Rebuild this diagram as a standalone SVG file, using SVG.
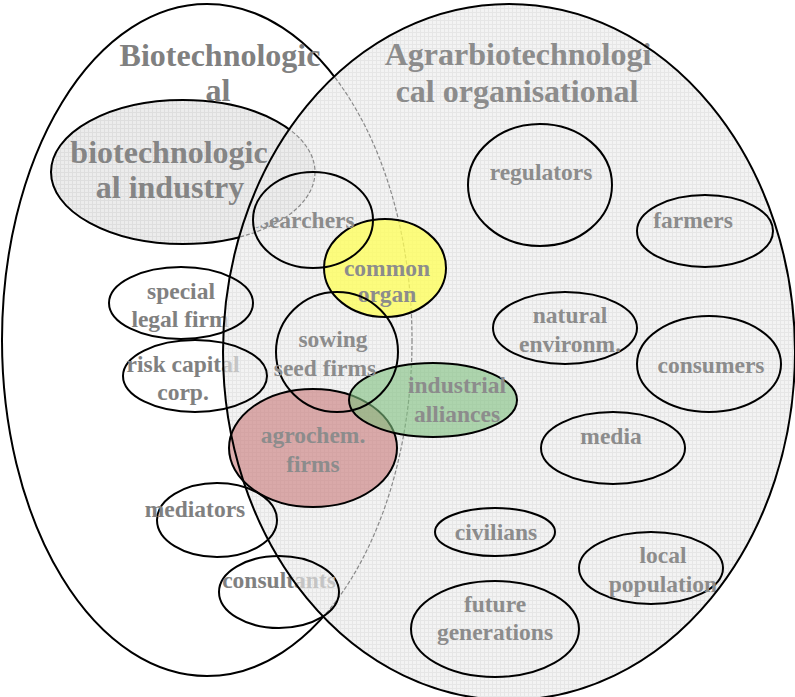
<svg xmlns="http://www.w3.org/2000/svg" width="795" height="697" viewBox="0 0 795 697">
<style>
text{font-family:"Liberation Serif","Times New Roman",serif;font-weight:bold;text-anchor:middle}
.lbl{font-size:23.5px;fill:#8c8c8c}
.big{font-size:32px}
.ol{fill:none;stroke:#000;stroke-width:2}
.dash{fill:none;stroke:#8a8a8a;stroke-width:1.2;stroke-dasharray:4 2}
.lt{font-size:23.5px;fill:url(#leftText)}
</style>
<defs>
<pattern id="grid" width="4" height="4" patternUnits="userSpaceOnUse"><rect width="4" height="4" fill="#f3f3f3"/><path d="M0 0.5H4M0.5 0V4" stroke="#e6e6e6" stroke-width="1"/></pattern>
<pattern id="grid2" width="4" height="4" patternUnits="userSpaceOnUse"><rect width="4" height="4" fill="#ececec"/><path d="M0 0.5H4M0.5 0V4" stroke="#dedede" stroke-width="1"/></pattern>
<clipPath id="inRight"><ellipse cx="509" cy="352" rx="286" ry="348"/></clipPath>
<clipPath id="outRight"><path clip-rule="evenodd" d="M-10 -10H805V707H-10Z M223 352A286 348 0 1 0 795 352A286 348 0 1 0 223 352Z"/></clipPath>
<clipPath id="notBiotech"><path clip-rule="evenodd" d="M-10 -10H805V707H-10Z M63 172A120 70 0 1 0 303 172A120 70 0 1 0 63 172Z"/></clipPath>
<radialGradient id="leftText" gradientUnits="userSpaceOnUse" cx="0" cy="0" r="1" gradientTransform="translate(509 352) scale(286 348)"><stop offset="0" stop-color="#c4c4c4"/><stop offset="0.998" stop-color="#c4c4c4"/><stop offset="1" stop-color="#808080"/></radialGradient>
</defs>
<rect width="795" height="697" fill="#fff"/>

<g id="agrarbiotechnological">
<ellipse cx="509" cy="352" rx="286" ry="348" fill="url(#grid)"/>
<text class="big" x="518" y="65" fill="#8c8c8c">Agrarbiotechnologi</text>
<text class="big" x="517" y="102" fill="#8c8c8c">cal organisational</text>
</g>

<g id="biotechnological">
<ellipse cx="207" cy="340" rx="205" ry="336" class="ol" clip-path="url(#outRight)"/>
<ellipse cx="207" cy="340" rx="205" ry="336" class="dash" clip-path="url(#inRight)"/>
<text class="big" x="220" y="66" fill="#808080">Biotechnologic</text>
<text class="big" x="218" y="101" fill="#808080">al</text>
</g>

<g id="biotech-industry">
<ellipse cx="183" cy="172" rx="132" ry="72" fill="url(#grid2)"/>
<ellipse cx="183" cy="172" rx="132" ry="72" class="ol" clip-path="url(#outRight)"/>
<ellipse cx="183" cy="172" rx="132" ry="72" class="dash" clip-path="url(#inRight)"/>
<text class="big" x="169" y="163" fill="#858585">biotechnologic</text>
<text class="big" x="170" y="198" fill="#858585">al industry</text>
</g>

<g id="agrochem-firms">
<ellipse cx="313" cy="448" rx="84" ry="59" fill="#c87878" fill-opacity="0.6" stroke="#000" stroke-width="2"/>
<text class="lbl" x="313" y="443" fill="#7a6262">agrochem.</text>
<text class="lbl" x="313" y="472" fill="#7a6262">firms</text>
</g>

<g id="industrial-alliances">
<ellipse cx="433" cy="400" rx="84" ry="37" fill="#7fc07f" fill-opacity="0.6" stroke="#000" stroke-width="2"/>
<text class="lbl" x="457" y="393" fill="#6c806c">industrial</text>
<text class="lbl" x="457" y="422" fill="#6c806c">alliances</text>
</g>

<g id="common-organ">
<ellipse cx="385" cy="268" rx="61" ry="49" fill="#ffff55" fill-opacity="0.75" stroke="#000" stroke-width="2"/>
<text class="lbl" x="387" y="276" fill="#8a8a6a">common</text>
<text class="lbl" x="387" y="302" fill="#8a8a6a">organ</text>
</g>

<g id="researchers">
<ellipse cx="313" cy="220" rx="60" ry="48" class="ol"/>
<text class="lbl" x="297" y="228" clip-path="url(#notBiotech)">researchers</text>
</g>

<g id="sowing-seed-firms">
<ellipse cx="337" cy="352" rx="61" ry="60" class="ol"/>
<text class="lbl" x="333" y="347">sowing</text>
<text class="lbl" x="325" y="376">seed firms</text>
</g>

<g id="regulators">
<ellipse cx="540" cy="185" rx="72" ry="61" class="ol"/>
<text class="lbl" x="541" y="180">regulators</text>
</g>

<g id="farmers">
<ellipse cx="705" cy="231" rx="68" ry="36" class="ol"/>
<text class="lbl" x="693" y="228">farmers</text>
</g>

<g id="natural-environment">
<ellipse cx="565" cy="328" rx="72" ry="36" class="ol"/>
<text class="lbl" x="570" y="323">natural</text>
<text class="lbl" x="570" y="352">environm.</text>
</g>

<g id="consumers">
<ellipse cx="709" cy="364" rx="72" ry="48" class="ol"/>
<text class="lbl" x="711" y="373">consumers</text>
</g>

<g id="media">
<ellipse cx="613" cy="448" rx="72" ry="36" class="ol"/>
<text class="lbl" x="611" y="444">media</text>
</g>

<g id="civilians">
<ellipse cx="495" cy="532" rx="60" ry="24" class="ol"/>
<text class="lbl" x="496" y="540">civilians</text>
</g>

<g id="local-population">
<ellipse cx="651" cy="568" rx="72" ry="36" class="ol"/>
<text class="lbl" x="663" y="563">local</text>
<text class="lbl" x="663" y="592">population</text>
</g>

<g id="future-generations">
<ellipse cx="495" cy="629" rx="84" ry="48" class="ol"/>
<text class="lbl" x="495" y="612">future</text>
<text class="lbl" x="495" y="640">generations</text>
</g>

<g id="special-legal-firm">
<ellipse cx="181" cy="303" rx="72" ry="36" class="ol"/>
<text class="lt" x="181" y="299">special</text>
<text class="lt" x="180" y="327">legal firm</text>
</g>

<g id="risk-capital-corp">
<ellipse cx="195" cy="376" rx="72" ry="36" class="ol"/>
<text class="lt" x="183" y="372">risk capital</text>
<text class="lt" x="183" y="400">corp.</text>
</g>

<g id="mediators">
<ellipse cx="217" cy="520" rx="60" ry="37" class="ol"/>
<text class="lt" x="195" y="517">mediators</text>
</g>

<g id="consultants">
<ellipse cx="279" cy="592" rx="60" ry="36" class="ol"/>
<text class="lt" x="279" y="588">consultants</text>
</g>

<g id="agrarbiotechnological-outline">
<ellipse cx="509" cy="352" rx="286" ry="348" class="ol"/>
</g>

<g id="connectors"/>
</svg>
